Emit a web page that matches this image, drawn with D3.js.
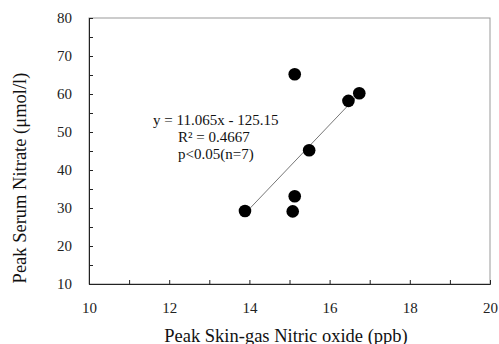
<!DOCTYPE html>
<html><head><meta charset="utf-8">
<script src="https://cdn.jsdelivr.net/npm/d3@7"></script>
<style>body{margin:0;background:#fff}svg text{font-family:"Liberation Serif","Times New Roman",serif !important}</style>
</head><body><svg id="c" width="499" height="344"></svg>
<script>
const xVals = [13.89, 15.13, 16.47, 16.74, 15.49, 15.13, 15.08];
const yVals = [29.2, 65.2, 58.2, 60.2, 45.2, 33.1, 29.1];
const xTicks = [10, 12, 14, 16, 18, 20];
const yTicks = [10, 20, 30, 40, 50, 60, 70, 80];
const slope = 11.065, intercept = -125.15;
const eqLines = ["y = 11.065x - 125.15", "R² = 0.4667", "p<0.05(n=7)"];

const svg = d3.select("#c");
const L = 89, R = 490, T = 18, B = 284;
const x = d3.scaleLinear().domain([10, 20]).range([L, R]);
const y = d3.scaleLinear().domain([10, 80]).range([B, T]);

svg.append("rect").attr("x", L).attr("y", T).attr("width", R - L).attr("height", B - T)
  .attr("fill", "none").attr("stroke", "#999").attr("stroke-width", 1);

const xa = svg.append("g").attr("transform", `translate(0,${B})`)
  .call(d3.axisBottom(x).tickValues(d3.range(10, 21, 1)).tickSize(-4).tickPadding(18)
    .tickFormat(d => xTicks.includes(d) ? d : ""));
xa.attr("font-family", null).attr("font-size", 15);
xa.select(".domain").attr("stroke", "#222");
xa.selectAll(".tick line").attr("stroke", "#222");
xa.selectAll("text").attr("fill", "#222");

const ya = svg.append("g").attr("transform", `translate(${L},0)`)
  .call(d3.axisLeft(y).tickValues(d3.range(10, 81, 5)).tickSize(-4).tickPadding(17)
    .tickFormat(d => yTicks.includes(d) ? d : ""));
ya.attr("font-family", null).attr("font-size", 15);
ya.select(".domain").attr("stroke", "#222");
ya.selectAll(".tick line").attr("stroke", "#222");
ya.selectAll("text").attr("fill", "#222");

const x0 = d3.min(xVals), x1 = d3.max(xVals);
svg.append("line").attr("x1", x(x0)).attr("y1", y(slope * x0 + intercept))
  .attr("x2", x(x1)).attr("y2", y(slope * x1 + intercept))
  .attr("stroke", "#777").attr("stroke-width", 1);

svg.append("g").selectAll("circle").data(xVals).join("circle")
  .attr("cx", d => x(d)).attr("cy", (d, i) => y(yVals[i])).attr("r", 6.3).attr("fill", "#000");

const eq = svg.append("g").attr("font-size", 15).attr("fill", "#111");
eq.append("text").attr("x", 153).attr("y", 125).text(eqLines[0]);
eq.append("text").attr("x", 178).attr("y", 142).text(eqLines[1]);
eq.append("text").attr("x", 178).attr("y", 159).text(eqLines[2]);

svg.append("text").attr("x", 286).attr("y", 342).attr("text-anchor", "middle")
  .attr("font-size", 18.5).attr("fill", "#111").text("Peak Skin-gas Nitric oxide (ppb)");
svg.append("text").attr("transform", "translate(26,178) rotate(-90)").attr("text-anchor", "middle")
  .attr("font-size", 18.5).attr("fill", "#111").text("Peak Serum Nitrate (μmol/l)");
</script></body></html>
